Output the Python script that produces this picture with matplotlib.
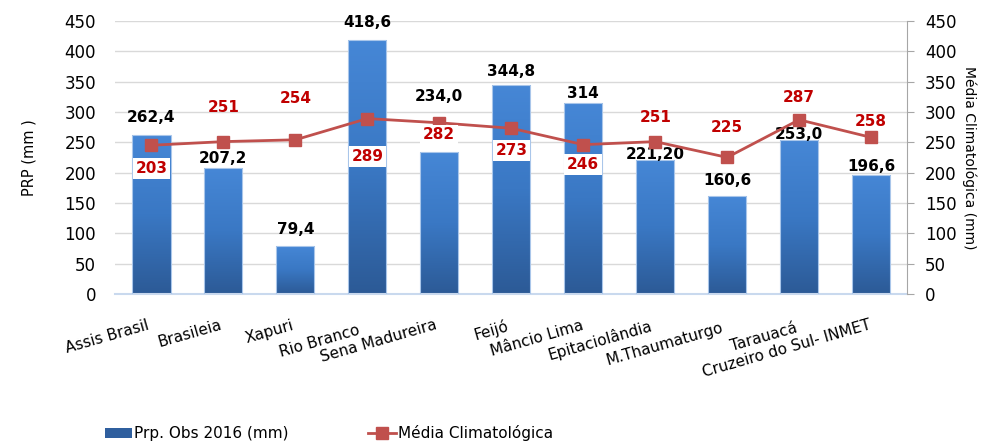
import numpy as np
import matplotlib
matplotlib.use("Agg")
import matplotlib.pyplot as plt
from matplotlib.colors import LinearSegmentedColormap
from matplotlib.transforms import ScaledTranslation

stations = ["Assis Brasil", "Brasileia", "Xapuri", "Rio Branco", "Sena Madureira",
            "Feijó", "Mâncio Lima", "Epitaciolândia", "M.Thaumaturgo", "Tarauacá",
            "Cruzeiro do Sul- INMET"]
obs_2016 = [262.4, 207.2, 79.4, 418.6, 234.0, 344.8, 314, 221.2, 160.6, 253.0, 196.6]
obs_labels = ["262,4", "207,2", "79,4", "418,6", "234,0", "344,8", "314", "221,20",
              "160,6", "253,0", "196,6"]
clim = [245, 251, 254, 289, 282, 273, 246, 251, 225, 287, 258]
clim_labels = ["203", "251", "254", "289", "282", "273", "246", "251", "225", "287", "258"]

# label offsets in pixels (as placed in the original)
obs_off = [17, 10, 16, 17, 55, 13, 10, 5, 16, 6, 8]
clim_off = [-23, 34, 41, -38, -12, -22, -20, 24, 30, 22, 16]
# x tick label shifts (inches), Excel nudges some of them
tick_dx = [-0.05, -0.04, -0.04, -0.1, -0.05, -0.05, -0.02, -0.06, -0.06, -0.04, -0.03]
tick_dy = [0, 0, 0, -0.05, 0, 0, 0, 0, -0.03, -0.03, 0]

fig = plt.figure(figsize=(9.87, 4.44), dpi=100)
ax = fig.add_axes([0.117, 0.338, 0.802, 0.615])
x = np.arange(len(stations))

bars = ax.bar(x, obs_2016, width=0.53, facecolor="none", edgecolor="#a9c6ea",
              linewidth=0.8, zorder=3)
cmap = LinearSegmentedColormap.from_list("g", ["#2c5a96", "#3a78c4", "#4687d6"])
grad = np.linspace(0, 1, 256).reshape(-1, 1)
for b in bars:
    im = ax.imshow(grad, extent=[b.get_x(), b.get_x() + b.get_width(), 0, b.get_height()],
                   origin="lower", cmap=cmap, aspect="auto", zorder=2)
    im.set_clip_path(b)

ax.set_xlim(-0.5, len(stations) - 0.5)
ax.set_ylim(0, 450)
ax.set_yticks(np.arange(0, 451, 50))
ax.yaxis.grid(True, color="#d9d9d9", linewidth=1)
ax.set_axisbelow(True)
for s in ["top", "right", "left"]:
    ax.spines[s].set_visible(False)
ax.spines["bottom"].set_color("#c9d9ee")
ax.spines["bottom"].set_linewidth(1.5)
ax.tick_params(axis="y", length=0, labelsize=12, pad=14)
ax.tick_params(axis="x", length=0, pad=17)
ax.set_ylabel("PRP (mm )", fontsize=10.5, labelpad=20)

ax.set_xticks(x)
ax.set_xticklabels(stations, rotation=16, ha="right", rotation_mode="anchor", fontsize=11)
for lab, dx, dy in zip(ax.get_xticklabels(), tick_dx, tick_dy):
    lab.set_transform(lab.get_transform() + ScaledTranslation(dx, dy, fig.dpi_scale_trans))

for xi, v, t, o in zip(x, obs_2016, obs_labels, obs_off):
    ax.annotate(t, (xi, v), xytext=(0, o), textcoords="offset pixels",
                ha="center", va="center", fontsize=11, fontweight="bold", color="black",
                zorder=5)

ax2 = ax.twinx()
ax2.set_ylim(0, 450)
ax2.set_yticks(np.arange(0, 451, 50))
for s in ["top", "left", "bottom"]:
    ax2.spines[s].set_visible(False)
ax2.spines["right"].set_color("#a6a6a6")
ax2.tick_params(axis="y", labelsize=12, color="#a6a6a6", length=5, pad=8)
ax2.set_ylabel("Média Climatológica (mm)", rotation=270, fontsize=10, labelpad=14)

line, = ax2.plot(x, clim, color="#c0504d", linewidth=2, marker="s", markersize=8,
                 zorder=4)
for xi, v, t, o in zip(x, clim, clim_labels, clim_off):
    box = dict(facecolor="white", edgecolor="none", pad=2) if o < 0 else None
    ax2.annotate(t, (xi, v), xytext=(0, o), textcoords="offset pixels",
                 ha="center", va="center", fontsize=11, fontweight="bold",
                 color="#c00000", bbox=box, zorder=6)

leg_bar = plt.Rectangle((0, 0), 1, 1, facecolor="#2f5f9e")
fig.legend([leg_bar, line], ["Prp. Obs 2016 (mm)", "Média Climatológica"],
           loc="lower left", bbox_to_anchor=(0.092, -0.025), ncol=2, frameon=False,
           fontsize=11, handlelength=1.8, handletextpad=0.15, columnspacing=5.2)

fig.savefig("out.png", dpi=100)
